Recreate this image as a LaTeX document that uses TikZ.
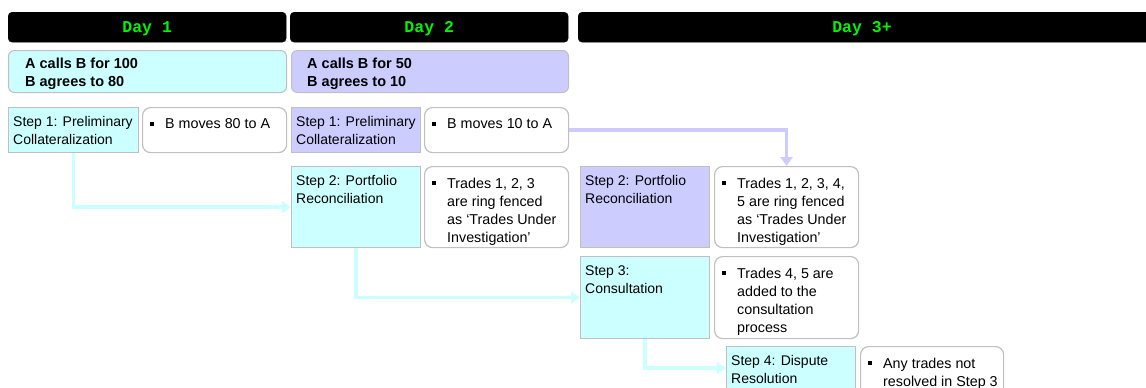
\documentclass[tikz,border=0pt]{standalone}
\usepackage{fontspec}
\setmainfont{Liberation Sans}
\newfontfamily\dayfont{Liberation Mono}
\usetikzlibrary{arrows.meta}

\definecolor{cyanfill}{RGB}{204,255,255}
\definecolor{lilacfill}{RGB}{204,204,255}
\definecolor{edgegray}{RGB}{192,192,192}
\definecolor{daygreen}{RGB}{0,245,0}

% rows of text whose first baseline is the node's baseline
\newcommand{\textlines}[1]{\begin{tabular}[t]{@{}l@{}}#1\end{tabular}}
\newcommand{\bulletmark}{\rule[3pt]{4pt}{4pt}\hspace{11pt}}

\tikzset{
  daybar/.style={draw=black, fill=black, rounded corners=4pt, anchor=north west, inner sep=0},
  daylabel/.style={anchor=base, inner sep=0, text=daygreen,
    font=\dayfont\bfseries\fontsize{16.5}{18}\selectfont},
  callbox/.style={draw=edgegray, line width=1pt, rounded corners=6pt, anchor=north west, inner sep=0},
  calltext/.style={anchor=base west, inner sep=0,
    font=\bfseries\fontsize{14.5}{18}\selectfont},
  stepbox/.style={draw=edgegray, line width=1.3pt, anchor=north west, inner sep=0},
  steptext/.style={anchor=base west, inner sep=0,
    font=\fontsize{14}{17.7}\selectfont},
  notebox/.style={draw=edgegray, line width=1.2pt, fill=white, rounded corners=8pt,
    anchor=north west, inner sep=0},
  notetext/.style={anchor=base west, inner sep=0,
    font=\fontsize{14.3}{18.3}\selectfont},
  flow/.style={line width=3.6pt, -{Triangle[length=9pt,width=12pt]}},
  cyanflow/.style={flow, draw=cyanfill},
  lilacflow/.style={flow, draw=lilacfill},
}

\begin{document}
\begin{tikzpicture}[x=1pt, y=-1pt]
\useasboundingbox (0,0) rectangle (1146,388);
\clip (0,0) rectangle (1146,388);

% day headers
\node[daybar, minimum width=278pt, minimum height=30pt] (h1) at (8,12) {};
\node[daybar, minimum width=278pt, minimum height=30pt] (h2) at (290,12) {};
\node[daybar, minimum width=576pt, minimum height=30pt] (h3) at (578,12) {};
\node[daylabel] (h1t) at ([yshift=9.5pt]h1.south) {Day 1};
\node[daylabel] (h2t) at ([yshift=9.5pt]h2.south) {Day 2};
\node[daylabel] (h3t) at (862,32.5) {Day 3+};

% margin calls
\node[callbox, fill=cyanfill, minimum width=278pt, minimum height=42pt] (c1) at (8,50) {};
\node[callbox, fill=lilacfill, minimum width=277pt, minimum height=42pt] (c2) at (291,50) {};
\node[calltext] (c1t) at ([shift={(17,18)}]c1.north west) {\textlines{A calls B for 100\\B agrees to 80}};
\node[calltext] (c2t) at ([shift={(16,18)}]c2.north west) {\textlines{A calls B for 50\\B agrees to 10}};

% day 1
\node[stepbox, fill=cyanfill, minimum width=130pt, minimum height=45pt] (d1s1) at (8,107) {};
\node[notebox, minimum width=144pt, minimum height=45pt] (d1b1) at (142,107) {};
\node[steptext] (d1s1t) at ([shift={(5,19.5)}]d1s1.north west) {\textlines{Step 1: Preliminary\\Collateralization}};
\node[notetext] (d1b1t) at ([shift={(8,21.5)}]d1b1.north west) {\bulletmark\textlines{B moves 80 to A}};

% day 2
\node[stepbox, fill=lilacfill, minimum width=129pt, minimum height=45pt] (d2s1) at (291,107) {};
\node[notebox, minimum width=144pt, minimum height=45pt] (d2b1) at (424,107) {};
\node[steptext] (d2s1t) at ([shift={(5,19.5)}]d2s1.north west) {\textlines{Step 1: Preliminary\\Collateralization}};
\node[notetext] (d2b1t) at ([shift={(8,21.5)}]d2b1.north west) {\bulletmark\textlines{B moves 10 to A}};

\node[stepbox, fill=cyanfill, minimum width=129pt, minimum height=81pt] (d2s2) at (291,166) {};
\node[notebox, minimum width=144pt, minimum height=81pt] (d2b2) at (424,166) {};
\node[steptext] (d2s2t) at ([shift={(5,19.5)}]d2s2.north west) {\textlines{Step 2: Portfolio\\Reconciliation}};
\node[notetext] (d2b2t) at ([shift={(8,22)}]d2b2.north west)
  {\bulletmark\textlines{Trades 1, 2, 3\\are ring fenced\\as ‘Trades Under\\Investigation’}};

% day 3+
\node[stepbox, fill=lilacfill, minimum width=129pt, minimum height=81pt] (d3s2) at (580,166) {};
\node[notebox, minimum width=144pt, minimum height=81pt] (d3b2) at (714,166) {};
\node[steptext] (d3s2t) at ([shift={(5,19.5)}]d3s2.north west) {\textlines{Step 2: Portfolio\\Reconciliation}};
\node[notetext] (d3b2t) at ([shift={(8,22)}]d3b2.north west)
  {\bulletmark\textlines{Trades 1, 2, 3, 4,\\5 are ring fenced\\as ‘Trades Under\\Investigation’}};

\node[stepbox, fill=cyanfill, minimum width=129pt, minimum height=82pt] (d3s3) at (580,256) {};
\node[notebox, minimum width=144pt, minimum height=82pt] (d3b3) at (714,256) {};
\node[steptext] (d3s3t) at ([shift={(5,19.5)}]d3s3.north west) {\textlines{Step 3:\\Consultation}};
\node[notetext] (d3b3t) at ([shift={(8,22)}]d3b3.north west)
  {\bulletmark\textlines{Trades 4, 5 are\\added to the\\consultation\\process}};

\node[stepbox, fill=cyanfill, minimum width=129pt, minimum height=43pt] (d3s4) at (726,346) {};
\node[notebox, minimum width=143pt, minimum height=52pt] (d3b4) at (860,346) {};
\node[steptext] (d3s4t) at ([shift={(5,19.5)}]d3s4.north west) {\textlines{Step 4: Dispute\\Resolution}};
\node[notetext] (d3b4t) at ([shift={(8,22)}]d3b4.north west)
  {\bulletmark\textlines{Any trades not\\resolved in Step 3}};

% flow between steps
\draw[cyanflow] (d1s1.south) |- (d2s2.west);
\draw[cyanflow] (d2s2.south) |- (d3s3.west);
\draw[cyanflow] (d3s3.south) |- (d3s4.west);
\draw[lilacflow] (d2b1.east) -| (d3b2.north);
\end{tikzpicture}
\end{document}
